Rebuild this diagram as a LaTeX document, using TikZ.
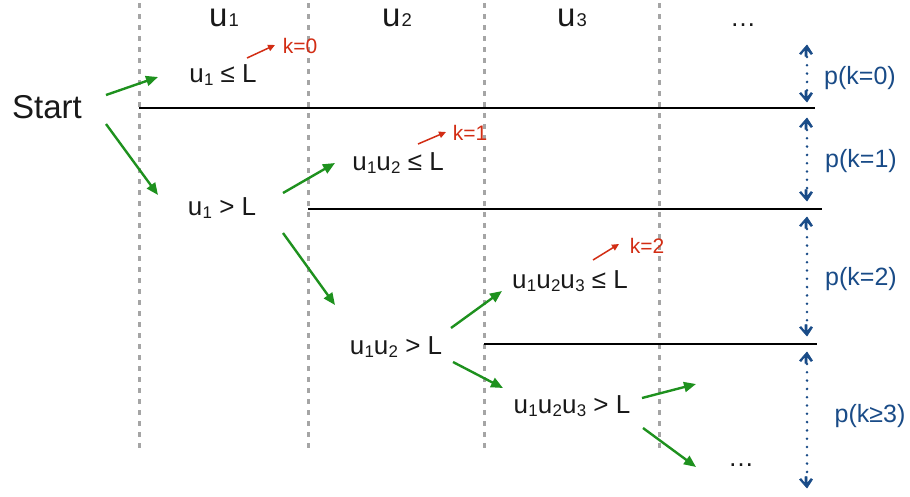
\documentclass[tikz,border=0pt]{standalone}
\usepackage{fontspec}
\setmainfont{Liberation Sans}
\usetikzlibrary{arrows.meta,calc}
\definecolor{grn}{RGB}{30,145,30}
\definecolor{rd}{RGB}{210,45,20}
\definecolor{bl}{RGB}{25,75,135}
\definecolor{gr}{RGB}{165,165,165}
\definecolor{tx}{RGB}{25,25,25}
\newcommand{\uu}[1]{u\kern0.3pt\raisebox{-0.12em}{\scalebox{0.65}{#1}}}
\newcommand{\hu}[1]{u\kern1pt\scalebox{0.56}{#1}}
\begin{document}
\begin{tikzpicture}[x=1pt,y=-1pt,
  lbl/.style={anchor=base,inner sep=0pt,text=tx,font=\fontsize{26}{30}\selectfont},
  hdr/.style={anchor=base,inner sep=0pt,text=tx,font=\fontsize{33}{36}\selectfont},
  klbl/.style={anchor=base,inner sep=0pt,text=rd,font=\fontsize{21}{24}\selectfont},
  plbl/.style={anchor=base,inner sep=0pt,text=bl,font=\fontsize{25}{28}\selectfont},
  garrow/.style={draw=grn,line width=2.4pt,-{Triangle[length=12pt,width=10pt]}},
  rarrow/.style={draw=rd,line width=1.5pt,-{Triangle[length=7pt,width=6.5pt]}},
  bdots/.style={draw=bl,line width=2.8pt,dash pattern=on 0pt off 8.3pt,line cap=round},
  chev/.style={fill=bl,draw=bl,line width=0.6pt,line join=round},
  colline/.style={draw=gr,line width=3pt,dash pattern=on 5pt off 6pt},
  sepline/.style={draw=black,line width=1.4pt}]
\useasboundingbox (0,0) rectangle (910,496);
% column separators
\foreach \x in {139,308,484,659} \draw[colline] (\x,3) -- (\x,453);
% separating lines
\draw[sepline] (139,108) -- (815,108);
\draw[sepline] (308,209) -- (822,209);
\draw[sepline] (484,344) -- (817,344);
% headers
\node[hdr] (hu1) at (224,26) {\hu{1}};
\node[hdr] (hu2) at (397,26) {\hu{2}};
\node[hdr] (hu3) at (572,26) {\hu{3}};
\node[lbl] (hdots) at (743,26) {\dots};
% nodes
\node[anchor=base,inner sep=0pt,text=tx,font=\fontsize{33}{36}\selectfont] (start) at (47,118) {Start};
\node[lbl] (n1) at (223,82) {\uu{1} ≤ L};
\node[lbl] (n2) at (222,215) {\uu{1} > L};
\node[lbl] (n3) at (398,170) {\uu{1}\uu{2} ≤ L};
\node[lbl] (n4) at (396,354) {\uu{1}\uu{2} > L};
\node[lbl] (n5) at (570,288) {\uu{1}\uu{2}\uu{3} ≤ L};
\node[lbl] (n6) at (572,413) {\uu{1}\uu{2}\uu{3} > L};
\node[lbl] (bdots) at (741,466) {\dots};
\node[klbl] (k0) at (300,53) {k=0};
\node[klbl] (k1) at (470,140) {k=1};
\node[klbl] (k2) at (647,253) {k=2};
\node[plbl] (p0) at (860,84) {p(k=0)};
\node[plbl] (p1) at (861,167) {p(k=1)};
\node[plbl] (p2) at (861,285) {p(k=2)};
\node[plbl] (p3) at (870,422) {p(k≥3)};
% green arrows
\draw[garrow] ($(start.base)+(59,-23)$) -- ($(n1.base)+(-65,-5)$);
\draw[garrow] ($(start.base)+(59,6)$) -- ($(n2.base)+(-64,-20)$);
\draw[garrow] ($(n2.base)+(61,-22)$) -- ($(n3.base)+(-63,-7)$);
\draw[garrow] ($(n2.base)+(61,18)$) -- ($(n4.base)+(-61,-49)$);
\draw[garrow] ($(n4.base)+(55,-26)$) -- ($(n5.base)+(-68,3)$);
\draw[garrow] ($(n4.base)+(57,8)$) -- ($(n6.base)+(-69,-25)$);
\coordinate (c1) at (696,384);
\draw[garrow] ($(n6.base)+(70,-15)$) -- (c1);
\draw[garrow] ($(n6.base)+(71,15)$) -- ($(bdots.base)+(-45,1)$);
% red arrows
\draw[rarrow] ($(n1.base)+(24,-24)$) -- ($(k0.base)+(-25,-8)$);
\draw[rarrow] ($(n3.base)+(20,-26)$) -- ($(k1.base)+(-24,-8)$);
\draw[rarrow] ($(n5.base)+(23,-28)$) -- ($(k2.base)+(-28,-9)$);
% blue double arrows
\foreach \ya/\yb [count=\i] in {45/102,118/201,217/336,352/488}{
  \coordinate (ba\i) at (807,\ya);
  \coordinate (bb\i) at (807,\yb);
  \draw[bdots] ($(ba\i)+(0,12)$) -- ($(bb\i)+(0,-10)$);
  \filldraw[chev] (ba\i) -- ++(5.5,8.5) -- ++(-1.6,1) -- ++(-3.9,-5.2) -- ++(0,7) -- ++(-2,0) -- ++(0,-7) -- ++(-3.9,5.2) -- ++(-1.6,-1) -- cycle;
  \filldraw[chev] (bb\i) -- ++(5.5,-8.5) -- ++(-1.6,-1) -- ++(-3.9,5.2) -- ++(0,-7) -- ++(-2,0) -- ++(0,7) -- ++(-3.9,-5.2) -- ++(-1.6,1) -- cycle;
}
\end{tikzpicture}
\end{document}
